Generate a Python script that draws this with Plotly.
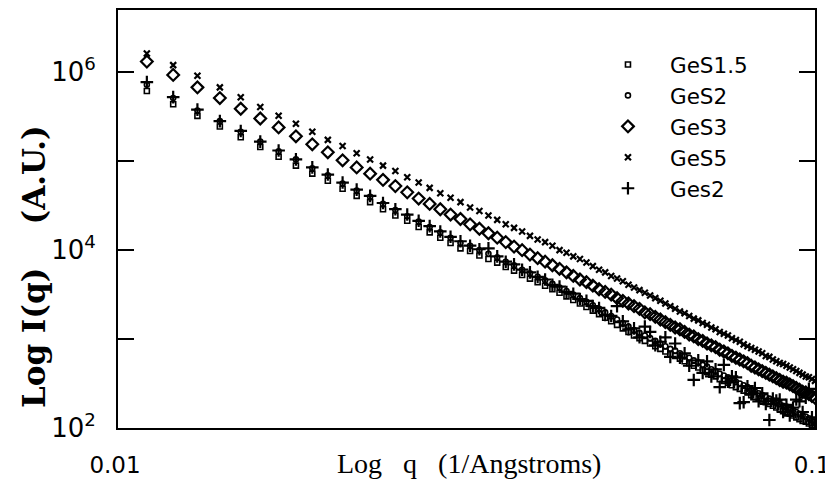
import plotly.graph_objects as go

# scattering vector q (1/Angstrom)
q = [0.011, 0.012, 0.013, 0.014, 0.015, 0.016, 0.017, 0.018, 0.019, 0.020,
     0.021, 0.022, 0.023, 0.024, 0.025, 0.026, 0.027, 0.028, 0.029, 0.030,
     0.031, 0.032, 0.033, 0.034, 0.035, 0.036, 0.037, 0.038, 0.039, 0.040,
     0.041, 0.042, 0.043, 0.044, 0.045, 0.046, 0.047, 0.048, 0.049, 0.050,
     0.051, 0.052, 0.053, 0.054, 0.055, 0.056, 0.057, 0.058, 0.059, 0.060,
     0.061, 0.062, 0.063, 0.064, 0.065, 0.066, 0.067, 0.068, 0.069, 0.070,
     0.071, 0.072, 0.073, 0.074, 0.075, 0.076, 0.077, 0.078, 0.079, 0.080,
     0.081, 0.082, 0.083, 0.084, 0.085, 0.086, 0.087, 0.088, 0.089, 0.090,
     0.091, 0.092, 0.093, 0.094, 0.095, 0.096, 0.097, 0.098, 0.099, 0.100]

# log10 I(q)
log_GeS1_5 = [5.79, 5.64, 5.51, 5.39, 5.27, 5.16, 5.05, 4.95, 4.86, 4.78,
              4.69, 4.61, 4.54, 4.46, 4.39, 4.33, 4.26, 4.20, 4.14, 4.08,
              4.02, 3.99, 3.94, 3.90, 3.86, 3.81, 3.77, 3.72, 3.68, 3.64,
              3.60, 3.56, 3.52, 3.48, 3.44, 3.40, 3.36, 3.32, 3.28, 3.24,
              3.20, 3.16, 3.12, 3.08, 3.04, 3.01, 2.98, 2.95, 2.92, 2.89,
              2.86, 2.83, 2.81, 2.78, 2.75, 2.73, 2.70, 2.68, 2.65, 2.63,
              2.60, 2.58, 2.55, 2.53, 2.51, 2.48, 2.46, 2.44, 2.42, 2.40,
              2.37, 2.35, 2.33, 2.31, 2.29, 2.27, 2.25, 2.23, 2.21, 2.19,
              2.18, 2.16, 2.14, 2.12, 2.10, 2.08, 2.07, 2.05, 2.03, 2.01]

log_GeS2 = [5.86, 5.71, 5.57, 5.45, 5.33, 5.22, 5.11, 5.02, 4.92, 4.84,
            4.75, 4.67, 4.60, 4.52, 4.45, 4.38, 4.32, 4.26, 4.20, 4.14,
            4.08, 4.05, 4.00, 3.96, 3.92, 3.87, 3.83, 3.78, 3.74, 3.70,
            3.66, 3.62, 3.58, 3.54, 3.50, 3.46, 3.42, 3.38, 3.34, 3.30,
            3.26, 3.22, 3.18, 3.14, 3.10, 3.07, 3.04, 3.01, 2.98, 2.95,
            2.92, 2.89, 2.87, 2.84, 2.81, 2.79, 2.76, 2.74, 2.71, 2.69,
            2.66, 2.64, 2.61, 2.59, 2.57, 2.54, 2.52, 2.50, 2.48, 2.46,
            2.43, 2.41, 2.39, 2.37, 2.35, 2.33, 2.31, 2.29, 2.27, 2.25,
            2.24, 2.22, 2.20, 2.18, 2.16, 2.14, 2.13, 2.11, 2.09, 2.07]

log_GeS3 = [6.12, 5.97, 5.83, 5.71, 5.59, 5.48, 5.38, 5.28, 5.19, 5.10,
            5.01, 4.93, 4.86, 4.79, 4.72, 4.65, 4.58, 4.52, 4.46, 4.40,
            4.35, 4.29, 4.24, 4.19, 4.14, 4.09, 4.04, 4.00, 3.95, 3.91,
            3.87, 3.83, 3.79, 3.75, 3.71, 3.67, 3.64, 3.60, 3.56, 3.53,
            3.50, 3.46, 3.43, 3.40, 3.37, 3.34, 3.30, 3.28, 3.25, 3.22,
            3.19, 3.16, 3.13, 3.11, 3.08, 3.05, 3.03, 3.00, 2.98, 2.95,
            2.93, 2.91, 2.88, 2.86, 2.84, 2.81, 2.79, 2.77, 2.75, 2.73,
            2.70, 2.68, 2.66, 2.64, 2.62, 2.60, 2.58, 2.56, 2.54, 2.52,
            2.51, 2.49, 2.47, 2.45, 2.43, 2.41, 2.40, 2.38, 2.36, 2.34]

log_GeS5 = [6.21, 6.08, 5.96, 5.83, 5.72, 5.61, 5.51, 5.42, 5.33, 5.24,
            5.17, 5.09, 5.02, 4.95, 4.89, 4.82, 4.76, 4.70, 4.64, 4.59,
            4.54, 4.48, 4.44, 4.39, 4.34, 4.29, 4.25, 4.21, 4.16, 4.12,
            4.09, 4.05, 4.00, 3.97, 3.93, 3.90, 3.86, 3.82, 3.78, 3.75,
            3.71, 3.68, 3.65, 3.61, 3.58, 3.55, 3.52, 3.49, 3.46, 3.43,
            3.40, 3.37, 3.34, 3.31, 3.29, 3.26, 3.23, 3.21, 3.18, 3.16,
            3.13, 3.11, 3.08, 3.06, 3.04, 3.01, 2.99, 2.97, 2.94, 2.92,
            2.90, 2.88, 2.86, 2.84, 2.81, 2.80, 2.77, 2.75, 2.73, 2.72,
            2.70, 2.68, 2.66, 2.64, 2.62, 2.60, 2.58, 2.57, 2.55, 2.53]

log_Ges2 = [5.89, 5.72, 5.58, 5.45, 5.34, 5.22, 5.12, 5.02, 4.93, 4.85,
            4.76, 4.68, 4.61, 4.53, 4.46, 4.40, 4.33, 4.27, 4.21, 4.15,
            4.10, 4.05, 4.01, 4.02, 3.93, 3.87, 3.84, 3.78, 3.75, 3.70,
            3.67, 3.61, 3.59, 3.53, 3.51, 3.45, 3.43, 3.37, 3.35, 3.27,
            3.26, 3.37, 3.20, 3.11, 3.12, 3.02, 3.14, 3.08, 2.93, 2.97,
            3.02, 2.80, 2.95, 2.79, 2.84, 2.70, 2.54, 2.76, 2.62, 2.75,
            2.58, 2.66, 2.46, 2.71, 2.52, 2.58, 2.57, 2.28, 2.29, 2.47,
            2.38, 2.45, 2.30, 2.39, 2.27, 2.09, 2.33, 2.31, 2.32, 2.18,
            2.26, 2.14, 2.23, 2.32, 2.30, 2.18, 2.34, 2.44, 2.12, 2.03]

x_ticks = [0.01, 0.1]
x_tick_labels = ["0.01", "0.1"]
y_ticks = [1e2, 1e3, 1e4, 1e5, 1e6]
y_tick_labels = ["10<sup>2</sup>", "", "10<sup>4</sup>", "", "10<sup>6</sup>"]

series = [
    ("GeS1.5", log_GeS1_5, dict(symbol="square-open", size=5, line=dict(width=1.6, color="black"))),
    ("GeS2", log_GeS2, dict(symbol="circle-open", size=5, line=dict(width=1.6, color="black"))),
    ("GeS3", log_GeS3, dict(symbol="diamond-open", size=9, line=dict(width=2.2, color="black"))),
    ("GeS5", log_GeS5, dict(symbol="x-thin-open", size=6, line=dict(width=2.2, color="black"))),
    ("Ges2", log_Ges2, dict(symbol="cross-thin-open", size=9, line=dict(width=2.2, color="black"))),
]

fig = go.Figure()
for name, logs, marker in series:
    fig.add_trace(go.Scatter(
        x=q, y=[10 ** v for v in logs], mode="markers", name=name,
        marker=dict(color="black", **marker), cliponaxis=True))

# page body has an 8px margin, so the figure is 8px smaller than the window
fig.update_layout(
    width=825, height=472,
    margin=dict(l=110, r=18, t=2, b=52),
    paper_bgcolor="white", plot_bgcolor="white",
    showlegend=True,
    legend=dict(x=0.6714, y=0.9187, xanchor="left", yanchor="top",
                font=dict(family="DejaVu Sans", size=21.5, color="black"),
                bgcolor="rgba(0,0,0,0)", itemwidth=74, tracegroupgap=0),
    xaxis=dict(type="log", range=[-2, -1], showgrid=False, zeroline=False,
               automargin=False,
               showline=True, linecolor="black", linewidth=2, mirror=True,
               ticks="", tickvals=x_ticks, ticktext=x_tick_labels,
               ticklabeloverflow="allow", ticklabelshift=-3,
               tickfont=dict(family="DejaVu Sans", size=23, color="black"),
               ticklabelstandoff=15),
    yaxis=dict(type="log", range=[2, 6.7], showgrid=False, zeroline=False,
               automargin=False,
               showline=True, linecolor="black", linewidth=2, mirror="ticks",
               ticks="inside", ticklen=16, tickwidth=1.5, tickcolor="black",
               tickvals=y_ticks, ticktext=y_tick_labels,
               ticklabeloverflow="allow",
               tickfont=dict(family="DejaVu Sans", size=26, color="black"),
               ticklabelstandoff=15),
)

fig.add_annotation(text="Log\u00a0\u00a0\u00a0q\u00a0\u00a0\u00a0(1/Angstroms)", xref="paper", yref="paper",
                   x=0.5036, y=-0.0861, xanchor="center", yanchor="middle", showarrow=False,
                   font=dict(family="Liberation Serif", size=28, color="black"))
fig.add_annotation(text="<b>Log I(q)\u00a0\u00a0\u00a0\u00a0(A.U.)</b>", xref="paper", yref="paper",
                   x=-0.1205, y=0.385, xanchor="center", yanchor="middle", showarrow=False,
                   textangle=-90,
                   font=dict(family="DejaVu Serif", size=31, color="black"))

fig.write_html("out.html")
